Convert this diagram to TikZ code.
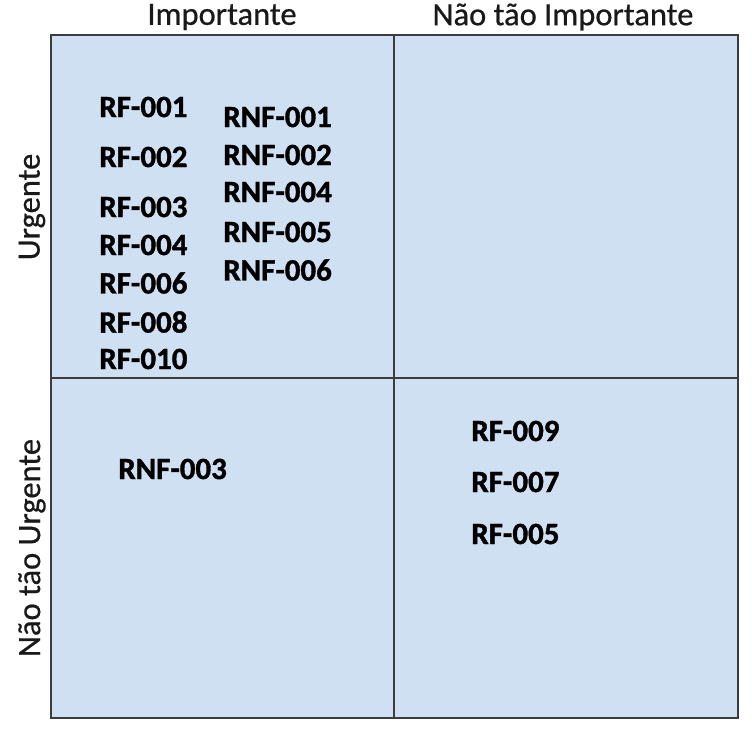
\documentclass[tikz,border=0pt]{standalone}
\usepackage{fontspec}
\setmainfont{Carlito}[BoldFeatures={FakeBold=1.2}]
\newfontface\axisface{Carlito}[FakeBold=0.6]
\usepackage{tikz}
\usetikzlibrary{positioning}

\definecolor{cellblue}{HTML}{CFE0F2}
\definecolor{gridline}{HTML}{3C3C3C}

\begin{document}
\begin{tikzpicture}[
    x=0.02cm, y=-0.02cm,
    cell/.style={fill=cellblue, draw=gridline, line width=1.1pt},
    req/.style={font=\bfseries\fontsize{17.6}{20}\selectfont, anchor=west, inner sep=0pt},
    axis/.style={font=\axisface\fontsize{18.5}{21}\selectfont, text=black!90, inner sep=0pt}
]

% =========================================================================
% 1. MATRIZ (quadrantes)
% =========================================================================
\useasboundingbox (0,0) rectangle (752,744);
\fill[cellblue] (51,35) rectangle (738,718);
\draw[cell] (51,35) rectangle (394,378);
\draw[cell] (394,35) rectangle (738,378);
\draw[cell] (51,378) rectangle (394,718);
\draw[cell] (394,378) rectangle (738,718);

% Rótulos dos eixos
\node[axis] (imp)  at (222,17) {Importante};
\node[axis] (nimp) at (563,17) {Não tão Importante};
\node[axis, rotate=90] (urg)  at (32,207) {Urgente};
\node[axis, rotate=90] (nurg) at (32,548) {Não tão Urgente};

% =========================================================================
% 2. URGENTE / IMPORTANTE
% =========================================================================
\node[req] (rf1)  at (99,107) {RF-001};
\node[req] (rf2)  at (99,157) {RF-002};
\node[req] (rf3)  at (99,207) {RF-003};
\node[req] (rf4)  at (99,245) {RF-004};
\node[req] (rf6)  at (99,283) {RF-006};
\node[req] (rf8)  at (99,322) {RF-008};
\node[req] (rf10) at (99,359) {RF-010};

\node[req] (rnf1) at (223,117) {RNF-001};
\node[req] (rnf2) at (223,155) {RNF-002};
\node[req] (rnf4) at (223,192) {RNF-004};
\node[req] (rnf5) at (223,232) {RNF-005};
\node[req] (rnf6) at (223,270) {RNF-006};

% =========================================================================
% 3. NÃO TÃO URGENTE
% =========================================================================
\node[req] (rnf3) at (118,469) {RNF-003};

\node[req] (rf9) at (471,431) {RF-009};
\node[req] (rf7) at (471,482) {RF-007};
\node[req] (rf5) at (471,534) {RF-005};

\end{tikzpicture}
\end{document}
